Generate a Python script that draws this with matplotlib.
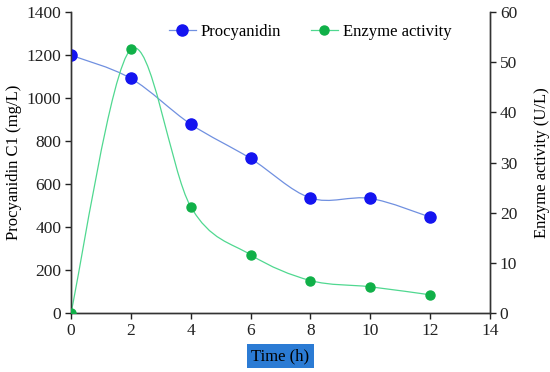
import numpy as np
import matplotlib.pyplot as plt
from matplotlib.path import Path
from matplotlib.patches import PathPatch
from matplotlib.lines import Line2D

plt.rcParams['font.family'] = 'Liberation Serif'

time_h = [0, 2, 4, 6, 8, 10, 12]
procyanidin = [1200, 1092, 879, 719, 535, 533, 446]
procyanidin_err = [60, 0, 20, 0, 15, 0, 0]
enzyme = [0, 52.6, 21.2, 11.6, 6.45, 5.2, 3.6]


def smooth_path(x, y):
    # excel-like smoothed line: catmull-rom segments as cubic bezier
    x = np.asarray(x, float)
    y = np.asarray(y, float)
    pts = np.column_stack([x, y])
    verts = [pts[0]]
    codes = [Path.MOVETO]
    n = len(pts)
    for i in range(n - 1):
        p0 = pts[i - 1] if i > 0 else pts[i]
        p1 = pts[i]
        p2 = pts[i + 1]
        p3 = pts[i + 2] if i + 2 < n else pts[i + 1]
        c1 = p1 + (p2 - p0) / 6.0
        c2 = p2 - (p3 - p1) / 6.0
        verts += [c1, c2, p2]
        codes += [Path.CURVE4] * 3
    return Path(verts, codes)


fig = plt.figure(figsize=(5.5, 3.72), dpi=100)
ax = fig.add_axes([0.129, 0.159, 0.762, 0.808])
ax2 = ax.twinx()

blue_line = '#7090e0'
blue_mk = '#1414f0'
green_line = '#50d890'
green_mk = '#10b048'

ax.add_patch(PathPatch(smooth_path(time_h, procyanidin), fill=False,
                       edgecolor=blue_line, lw=0.9, zorder=2))
ax.errorbar(time_h, procyanidin, yerr=procyanidin_err, fmt='none',
            ecolor='#555555', elinewidth=0.7, capsize=0, zorder=2)
ax.plot(time_h, procyanidin, 'o', color=blue_mk, markersize=8, zorder=3)

ax2.add_patch(PathPatch(smooth_path(time_h, enzyme), fill=False,
                        edgecolor=green_line, lw=0.9, zorder=2))
ax2.plot(time_h, enzyme, 'o', color=green_mk, markersize=6.5, zorder=3)

ax.set_xlim(0, 14)
ax.set_ylim(0, 1400)
ax2.set_ylim(0, 60)
ax.set_xticks(range(0, 15, 2))
ax.set_yticks(range(0, 1401, 200))
ax2.set_yticks(range(0, 61, 10))

for a in (ax, ax2):
    a.tick_params(direction='out', length=4, width=1, labelsize=12.5, colors='#222222', pad=3)
    for s in a.spines.values():
        s.set_linewidth(1)
        s.set_color('#333333')
ax.spines['top'].set_visible(False)
ax2.spines['top'].set_visible(False)

ax.set_ylabel('Procyanidin C1 (mg/L)', fontsize=12, labelpad=3)
ax2.set_ylabel('Enzyme activity (U/L)', fontsize=12, labelpad=12)
ax.set_xlabel('Time (h)', fontsize=12, labelpad=7,
              bbox=dict(boxstyle='square,pad=0.25', facecolor='#2b7bd4', edgecolor='none'))

handles = [Line2D([], [], color=blue_line, marker='o', markerfacecolor=blue_mk,
                  markeredgecolor=blue_mk, markersize=8, lw=0.9),
           Line2D([], [], color=green_line, marker='o', markerfacecolor=green_mk,
                  markeredgecolor=green_mk, markersize=6.5, lw=0.9)]
ax.legend(handles, ['Procyanidin', 'Enzyme activity'], loc='upper center',
          bbox_to_anchor=(0.571, 1.01), ncol=2, frameon=False, fontsize=12,
          handlelength=1.6, handletextpad=0.3, columnspacing=1.8)

fig.savefig('out.png', dpi=100)
